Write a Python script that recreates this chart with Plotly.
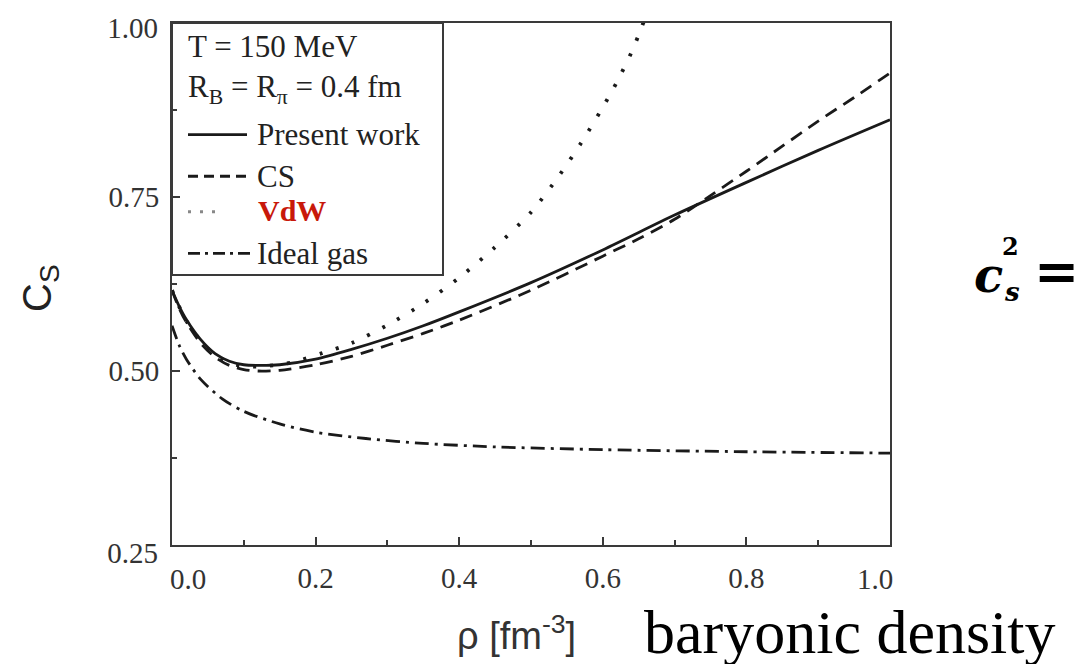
import plotly.graph_objects as go

# ---------------- data ----------------
present_x = [0.0, 0.01, 0.02, 0.04, 0.06, 0.08, 0.10, 0.12, 0.15, 0.20, 0.25, 0.30, 0.35, 0.40, 0.50, 0.60, 0.70, 0.80, 0.90, 1.00]
present_y = [0.616, 0.593, 0.574, 0.545, 0.525, 0.514, 0.509, 0.508, 0.509, 0.517, 0.531, 0.547, 0.565, 0.585, 0.627, 0.674, 0.724, 0.771, 0.817, 0.861]

cs_x = [0.0, 0.01, 0.02, 0.04, 0.06, 0.08, 0.10, 0.12, 0.15, 0.20, 0.25, 0.30, 0.35, 0.40, 0.50, 0.60, 0.65, 0.70, 0.75, 0.80, 0.85, 0.90, 0.95, 1.00]
cs_y = [0.616, 0.590, 0.570, 0.540, 0.520, 0.508, 0.502, 0.500, 0.501, 0.509, 0.521, 0.537, 0.554, 0.573, 0.616, 0.665, 0.690, 0.718, 0.752, 0.787, 0.823, 0.859, 0.893, 0.928]

vdw_x = [0.0, 0.02, 0.05, 0.08, 0.10, 0.13, 0.17, 0.21, 0.25, 0.30, 0.35, 0.40, 0.45, 0.50, 0.54, 0.57, 0.60, 0.62, 0.64, 0.65, 0.66]
vdw_y = [0.616, 0.572, 0.532, 0.512, 0.507, 0.507, 0.513, 0.526, 0.540, 0.566, 0.597, 0.634, 0.678, 0.728, 0.782, 0.828, 0.879, 0.916, 0.958, 0.983, 1.010]

ideal_x = [0.0, 0.01, 0.02, 0.04, 0.07, 0.10, 0.15, 0.20, 0.27, 0.35, 0.45, 0.60, 0.80, 1.00]
ideal_y = [0.565, 0.537, 0.517, 0.488, 0.460, 0.442, 0.424, 0.412, 0.403, 0.396, 0.391, 0.387, 0.384, 0.382]

x_tick_vals = [0.2, 0.4, 0.6, 0.8]
x_tick_text = ["0.2", "0.4", "0.6", "0.8"]
x_end_vals = [0.0, 1.0]
x_end_text = ["0.0", "1.0"]
y_tick_vals = [0.50, 0.75]
y_tick_text = ["0.50", "0.75"]
y_end_vals = [0.25, 1.00]
y_end_text = ["0.25", "1.00"]

legend_names = ["Present work", "CS", "VdW", "Ideal gas"]

# ---------------- layout helpers ----------------
W, H = 1079, 664
L, R, T, B = 172, 890, 17, 545


def px(xp):
    return (xp - L) / (R - L)


def py(yp):
    return (B - yp) / (B - T)


INK = "#1a1a1a"
AX = "#3a3a3a"
SERIF = "Liberation Serif"
SANS = "Liberation Sans"

fig = go.Figure()

styles = [
    dict(dash="solid", width=2.8),
    dict(dash="13px,8px", width=2.8),
    dict(dash="3px,14px", width=3.8),
    dict(dash="14px,6px,3px,6px", width=2.8),
]
series = [(present_x, present_y), (cs_x, cs_y), (vdw_x, vdw_y), (ideal_x, ideal_y)]
for (xs, ys), st, nm in zip(series, styles, legend_names):
    fig.add_trace(go.Scatter(x=xs, y=ys, mode="lines", name=nm, showlegend=False,
                             line=dict(color=INK, width=st["width"], dash=st["dash"],
                                       shape="spline", smoothing=0.8)))

# invisible traces hosting the overlay axes used for the shifted end tick labels
for xa, ya in [("x2", "y"), ("x3", "y"), ("x", "y2"), ("x", "y3")]:
    fig.add_trace(go.Scatter(x=[None], y=[None], xaxis=xa, yaxis=ya, showlegend=False,
                             hoverinfo="skip"))

tickfont = dict(family=SERIF, size=29, color="#333")

fig.update_layout(
    width=W, height=H,
    margin=dict(l=L, r=W - R, t=T, b=H - B),
    paper_bgcolor="white", plot_bgcolor="white",
    showlegend=False,
    xaxis=dict(range=[0, 1], showgrid=False, zeroline=False, showline=True, linecolor=AX,
               linewidth=2, mirror=True, tickmode="array", tickvals=x_tick_vals,
               ticktext=x_tick_text, ticks="inside", ticklen=8, tickwidth=2, tickcolor=AX,
               tickfont=tickfont, ticklabelstandoff=6,
               minor=dict(ticks="inside", ticklen=5, tickwidth=2, tickcolor=AX,
                          tickmode="array", tickvals=[0.1, 0.3, 0.5, 0.7, 0.9])),
    yaxis=dict(range=[0.25, 1.0], showgrid=False, zeroline=False, showline=True, linecolor=AX,
               linewidth=2, mirror=True, tickmode="array", tickvals=y_tick_vals,
               ticktext=y_tick_text, ticks="inside", ticklen=8, tickwidth=2, tickcolor=AX,
               tickfont=tickfont, ticklabelstandoff=5,
               minor=dict(ticks="inside", ticklen=5, tickwidth=2, tickcolor=AX,
                          tickmode="array", tickvals=[0.375, 0.625, 0.875])),
    xaxis2=dict(range=[0, 1], overlaying="x", anchor="y", showgrid=False, zeroline=False,
                showline=False, tickmode="array", tickvals=[x_end_vals[0]],
                ticktext=[x_end_text[0]], ticks="", tickfont=tickfont,
                ticklabelstandoff=6 + 8, ticklabelshift=16),
    xaxis3=dict(range=[0, 1], overlaying="x", anchor="y", showgrid=False, zeroline=False,
                showline=False, tickmode="array", tickvals=[x_end_vals[1]],
                ticktext=[x_end_text[1]], ticks="", tickfont=tickfont,
                ticklabelstandoff=6 + 8, ticklabelshift=-15),
    yaxis2=dict(range=[0.25, 1.0], overlaying="y", anchor="x", showgrid=False, zeroline=False,
                showline=False, tickmode="array", tickvals=[y_end_vals[0]],
                ticktext=[y_end_text[0]], ticks="", tickfont=tickfont,
                ticklabelstandoff=5 + 8, ticklabelshift=8),
    # the top label sits a few pixels below the frame corner, as in the reference
    yaxis3=dict(range=[0.25, 1.0], overlaying="y", anchor="x", showgrid=False, zeroline=False,
                showline=False, tickmode="array", tickvals=[y_end_vals[1] - 0.0075],
                ticktext=[y_end_text[1]], ticks="", tickfont=tickfont,
                ticklabelstandoff=5 + 8),
)

shapes = []
# legend box
shapes.append(dict(type="rect", xref="paper", yref="paper", x0=px(172), x1=px(443),
                   y0=py(272), y1=py(17), line=dict(color=AX, width=2),
                   fillcolor="rgba(255,255,255,0)", layer="above"))
legend_rows = [130, 172, 208, 250]
legend_ends = [247, 252, 222, 252]
legend_dash = ["solid", "10px,6px", "3px,9px", "12px,5px,3px,5px"]
legend_col = [INK, INK, "#888", INK]
legend_w = [2.8, 2.8, 3.0, 2.8]
for yr, xe, dsh, col, lw in zip(legend_rows, legend_ends, legend_dash, legend_col, legend_w):
    shapes.append(dict(type="line", xref="paper", yref="paper", x0=px(188), x1=px(xe),
                       y0=py(yr), y1=py(yr), line=dict(color=col, width=lw, dash=dsh)))
fig.update_layout(shapes=shapes)

lfont = dict(family=SERIF, size=31, color="#222")
ann = [
    dict(text="T = 150 MeV", x=px(186), y=py(41)),
    dict(text="R<sub>B</sub> = R<sub>π</sub> = 0.4 fm", x=px(186), y=py(84)),
    dict(text=legend_names[0], x=px(255), y=py(130)),
    dict(text=legend_names[1], x=px(255), y=py(172)),
    dict(text="<b>" + legend_names[2] + "</b>", x=px(256), y=py(207),
         font=dict(family=SERIF, size=30, color="#c8180a")),
    dict(text=legend_names[3], x=px(255), y=py(250)),
]
for a in ann:
    a.setdefault("font", lfont)
    fig.add_annotation(xref="paper", yref="paper", xanchor="left", yanchor="middle",
                       showarrow=False, **a)

# axis titles
fig.add_annotation(text="C<sub>S</sub>", xref="paper", yref="paper", x=px(40), y=py(285),
                   textangle=-90, showarrow=False, xanchor="center", yanchor="middle",
                   font=dict(family=SANS, size=40, color="#222"))
fig.add_annotation(text="ρ [fm<sup>-3</sup>]", xref="paper", yref="paper", x=px(516), y=py(634),
                   showarrow=False, xanchor="center", yanchor="middle",
                   font=dict(family=SANS, size=38, color="#333"))
fig.add_annotation(text="baryonic density", xref="paper", yref="paper", x=px(850), y=py(633),
                   showarrow=False, xanchor="center", yanchor="middle",
                   font=dict(family=SERIF, size=62, color="black"))

# c_s^2 =
mfont = "DejaVu Serif"
fig.add_annotation(text="<b><i>c</i></b>", xref="paper", yref="paper", x=px(989), y=py(272),
                   showarrow=False, xanchor="center", yanchor="middle",
                   font=dict(family=mfont, size=48, color="black"))
fig.add_annotation(text="<b>2</b>", xref="paper", yref="paper", x=px(1011), y=py(243),
                   showarrow=False, xanchor="center", yanchor="middle",
                   font=dict(family=mfont, size=24, color="black"))
fig.add_annotation(text="<b><i>s</i></b>", xref="paper", yref="paper", x=px(1012), y=py(289),
                   showarrow=False, xanchor="center", yanchor="middle",
                   font=dict(family=mfont, size=26, color="black"))
fig.add_annotation(text="<b>=</b>", xref="paper", yref="paper", x=px(1056), y=py(268),
                   showarrow=False, xanchor="center", yanchor="middle",
                   font=dict(family=mfont, size=54, color="black"))

fig.write_html("out.html")
